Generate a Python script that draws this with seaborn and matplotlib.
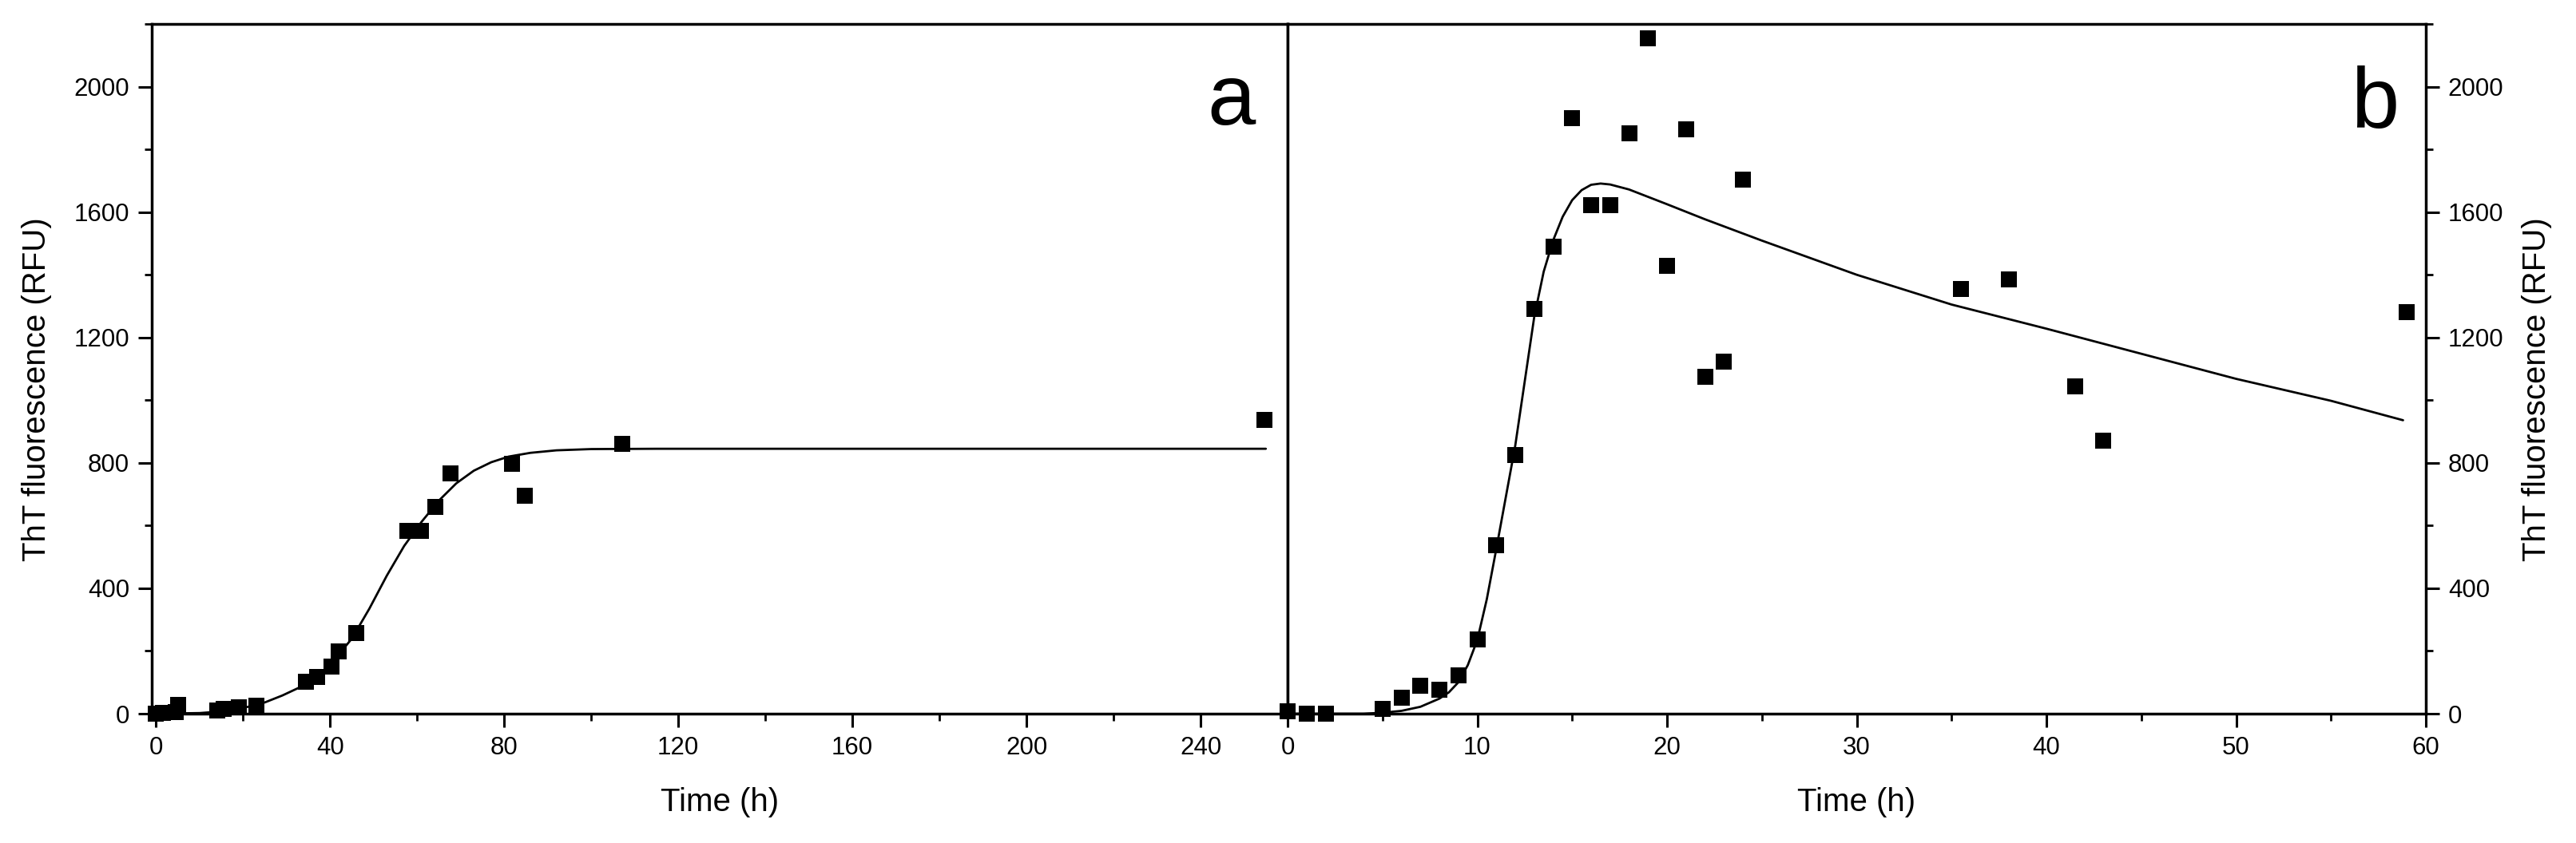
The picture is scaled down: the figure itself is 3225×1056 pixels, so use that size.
import pandas as pd
import matplotlib
matplotlib.use("Agg")
import matplotlib.pyplot as plt
import seaborn as sns
from matplotlib.ticker import MultipleLocator

# --- data ---
# panel a: long time course
time_a = [0, 1.5, 4.5, 5, 14, 15.5, 19, 23, 34.5, 37, 40.3, 42, 46,
          57.8, 60.8, 64.2, 67.7, 81.8, 84.8, 107.1, 254.7]
tht_a = [0, 2, 5, 28, 10, 15, 20, 25, 102, 116, 150, 198, 256,
         583, 583, 660, 766, 798, 694, 860, 938]
fit_time_a = [0, 10, 16, 20, 25, 29, 33, 37, 41, 45, 49, 53, 57, 61, 65,
              69, 73, 77, 81, 86, 92, 100, 115, 150, 200, 255]
fit_tht_a = [0, 2, 8, 18, 36, 58, 84, 118, 172, 240, 335, 440, 535, 612, 680,
             735, 775, 802, 820, 832, 840, 844, 845, 845, 845, 845]

# panel b: short time course
time_b = [0, 1, 2, 5, 6, 7, 8, 9, 10, 11, 12, 13, 14, 15, 16, 17, 18, 19,
          20, 21, 22, 23, 24, 35.5, 38, 41.5, 43, 59]
tht_b = [7, 0, 0, 15, 50, 88, 76, 122, 237, 538, 824, 1290, 1490, 1900,
         1621, 1621, 1850, 2155, 1429, 1863, 1074, 1123, 1704, 1354, 1386,
         1045, 872, 1280]
fit_time_b = [0, 4, 5, 6, 7, 8, 8.5, 9, 9.5, 10, 10.5, 11, 11.5, 12, 12.5, 13,
              13.5, 14, 14.5, 15, 15.5, 16, 16.5, 17, 18, 20, 22, 25, 30, 35,
              40, 45, 50, 55, 58.8]
fit_tht_b = [0, 0, 3, 9, 22, 48, 68, 100, 155, 235, 365, 525, 690, 855, 1060,
             1265, 1410, 1510, 1585, 1638, 1670, 1687, 1691, 1688, 1672, 1625,
             1577, 1509, 1400, 1305, 1228, 1148, 1068, 998, 936]

df_a = pd.DataFrame({"t": time_a, "y": tht_a})
df_b = pd.DataFrame({"t": time_b, "y": tht_b})
fit_a = pd.DataFrame({"t": fit_time_a, "y": fit_tht_a})
fit_b = pd.DataFrame({"t": fit_time_b, "y": fit_tht_b})

sns.set_style("ticks")
plt.rcParams["font.family"] = ["Liberation Sans", "DejaVu Sans"]
plt.rcParams["text.color"] = "black"
plt.rcParams["axes.labelcolor"] = "black"

W, H = 3225, 1056
fig = plt.figure(figsize=(W / 100, H / 100), dpi=100)
ax_a = fig.add_axes([190 / W, 162 / H, 1422 / W, 864 / H])
ax_b = fig.add_axes([1612 / W, 162 / H, 1425 / W, 864 / H])

for ax, pts, fit in [(ax_a, df_a, fit_a), (ax_b, df_b, fit_b)]:
    sns.lineplot(x="t", y="y", data=fit, ax=ax, color="black", linewidth=2.0,
                 sort=False, estimator=None)
    sns.scatterplot(x="t", y="y", data=pts, ax=ax, marker="s", s=210,
                    color="black", linewidth=0, clip_on=False, zorder=3)
    ax.set_ylim(0, 2200)
    ax.yaxis.set_major_locator(MultipleLocator(400))
    ax.yaxis.set_minor_locator(MultipleLocator(200))
    for sp in ax.spines.values():
        sp.set_visible(True)
        sp.set_linewidth(2.5)
        sp.set_color("black")
    ax.tick_params(which="major", direction="out", length=12, width=2.2,
                   labelsize=22.5, pad=8, colors="black")
    ax.tick_params(which="minor", direction="out", length=6.5, width=2.0,
                   colors="black")
    ax.set_xlabel("Time (h)", fontsize=29, color="black")
    ax.set_ylabel("ThT fluorescence (RFU)", fontsize=29, color="black")
    ax.xaxis.set_label_coords(0.5, -0.106)

# panel a axes
ax_a.set_xlim(-1, 260)
ax_a.xaxis.set_major_locator(MultipleLocator(40))
ax_a.xaxis.set_minor_locator(MultipleLocator(20))
ax_a.tick_params(which="both", top=False, right=False)
ax_a.yaxis.set_label_coords(-0.088, 0.47)
ax_a.text(0.972, 0.854, "a", transform=ax_a.transAxes, fontsize=78,
          ha="right", va="baseline", color="black")

# panel b axes, y axis on the right
ax_b.set_xlim(0, 60)
ax_b.xaxis.set_major_locator(MultipleLocator(10))
ax_b.xaxis.set_minor_locator(MultipleLocator(5))
ax_b.yaxis.tick_right()
ax_b.yaxis.set_label_position("right")
ax_b.tick_params(which="both", top=False, left=False)
ax_b.yaxis.set_label_coords(1.084, 0.47)
ax_b.text(0.976, 0.850, "b", transform=ax_b.transAxes, fontsize=78,
          ha="right", va="baseline", color="black")

fig.savefig("out.png", dpi=100)
